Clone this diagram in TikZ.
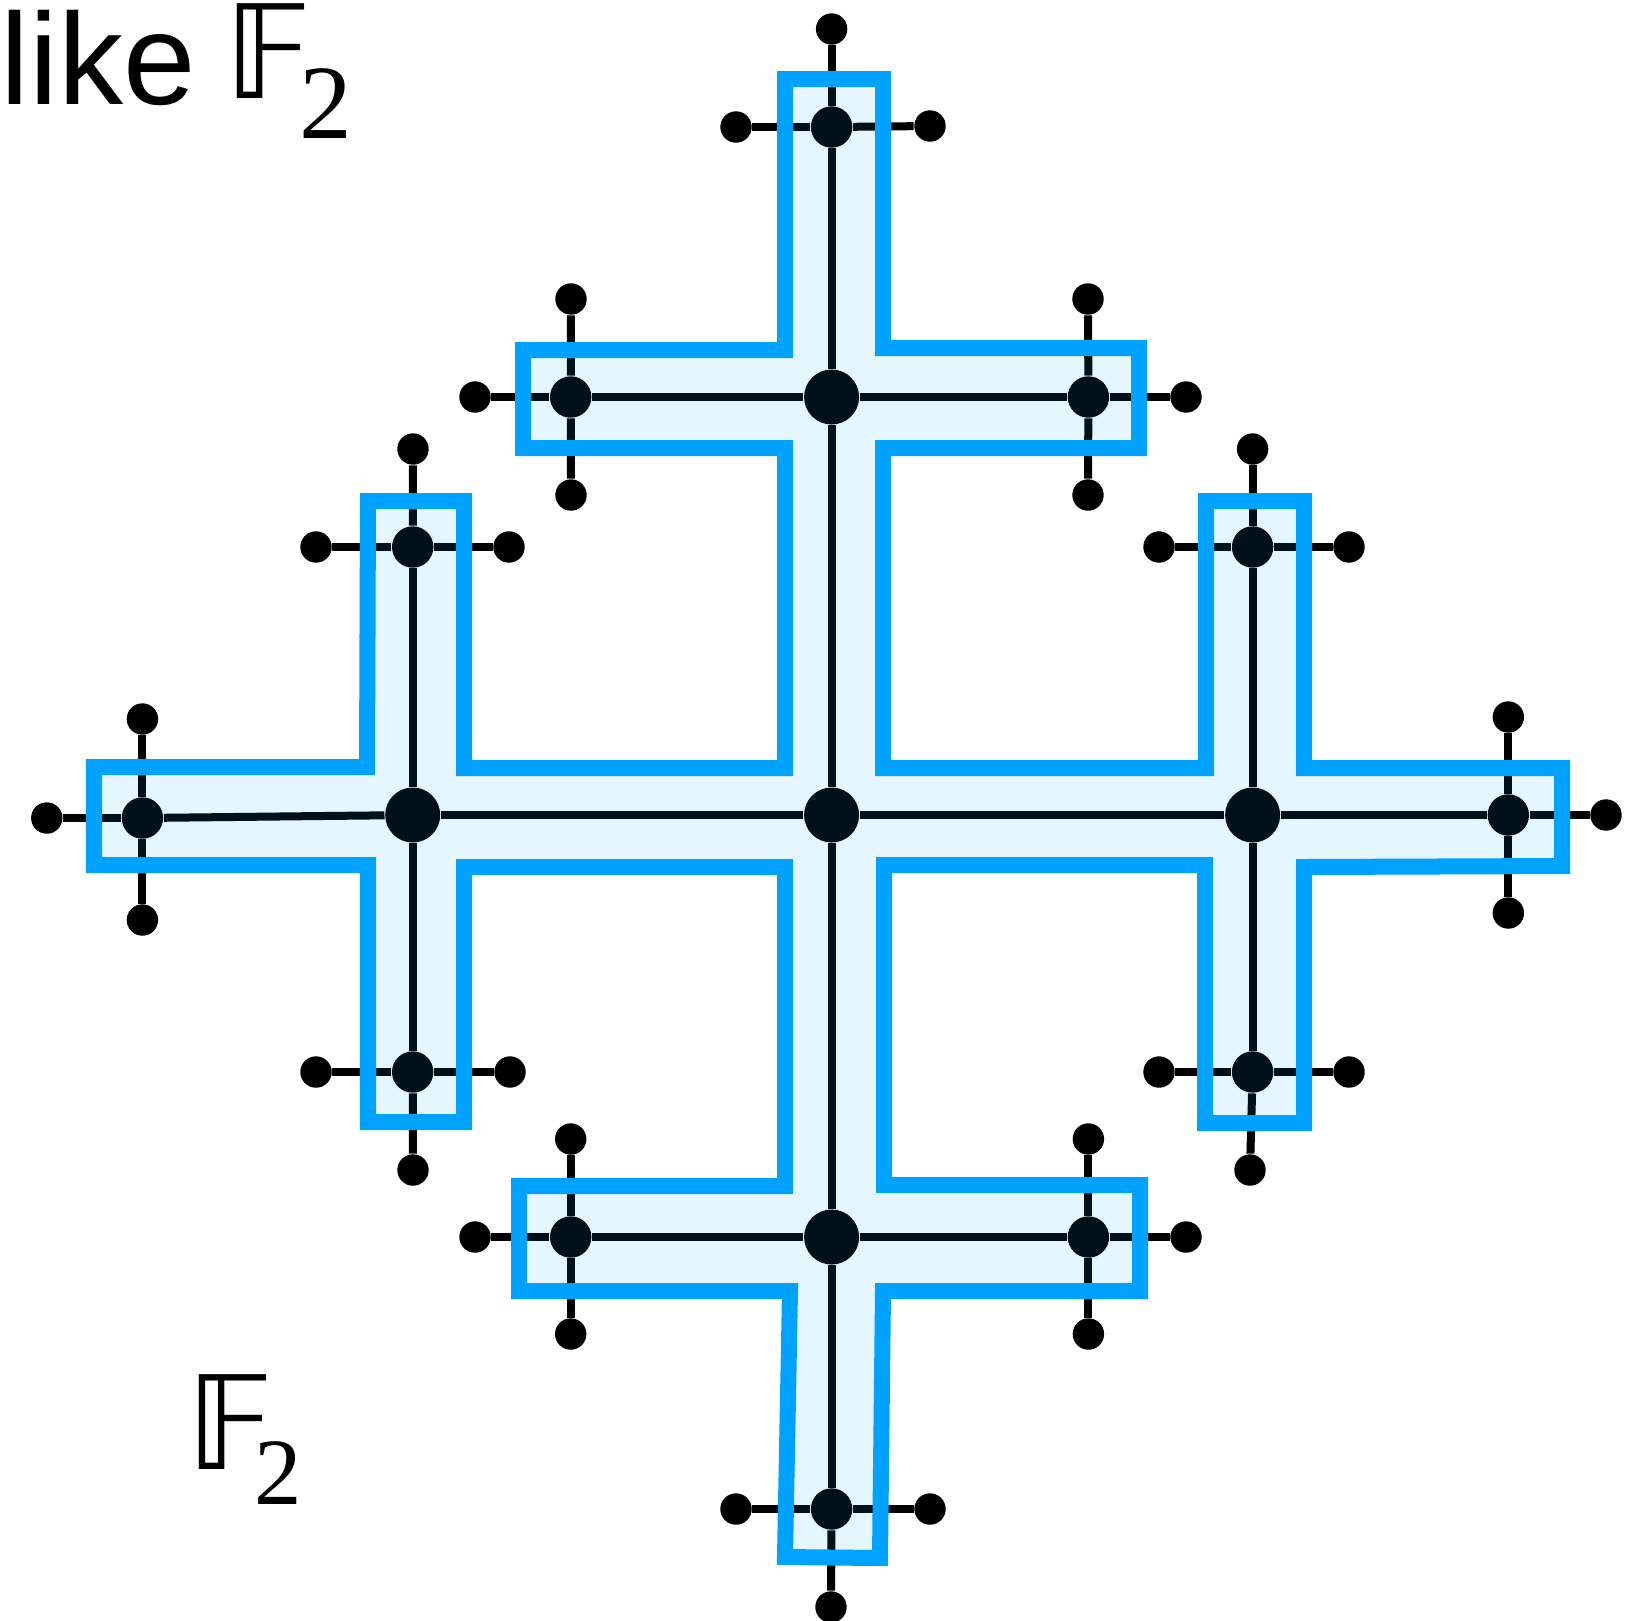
\documentclass[tikz,border=0pt]{standalone}
\usepackage{fontspec}
\newfontfamily\likefont{Liberation Sans}
\newfontfamily\dsfont{DejaVu Sans}
\newfontfamily\subfont{Liberation Serif}
\definecolor{hlblue}{RGB}{0,162,255}
\tikzset{
  bigdot/.style={circle, fill=black, inner sep=0pt, minimum size=0.55cm},
  middot/.style={circle, fill=black, inner sep=0pt, minimum size=0.414cm},
  leafdot/.style={circle, fill=black, inner sep=0pt, minimum size=0.314cm},
  edgeline/.style={line width=0.08cm, black},
  region/.style={draw=hlblue, line width=0.16cm, fill=hlblue, fill opacity=0.1, draw opacity=1, line join=miter},
  lbl/.style={inner sep=0pt, anchor=base west}
}
\begin{document}
\begin{tikzpicture}[x=0.01cm,y=-0.01cm]
\useasboundingbox (0,0) rectangle (1630,1620);
% level 0 and 1
\node[bigdot] (C) at (831.6,815) {};
\node[bigdot] (T) at (831.6,397) {};
\node[bigdot] (B) at (831.6,1237) {};
\node[bigdot] (L) at (412.7,815) {};
\node[bigdot] (R) at (1252.6,815) {};
% level 2
\node[middot] (TT) at (831.6,127) {};
\node[middot] (TL) at (570.7,397) {};
\node[middot] (TR) at (1088.4,397) {};
\node[middot] (LT) at (412.7,547) {};
\node[middot] (LL) at (142.4,818) {};
\node[middot] (LB) at (412.7,1072) {};
\node[middot] (RT) at (1252.6,547) {};
\node[middot] (RR) at (1508.3,815) {};
\node[middot] (RB) at (1252.6,1072) {};
\node[middot] (BL) at (570.7,1237) {};
\node[middot] (BR) at (1088.4,1237) {};
\node[middot] (BB) at (831.6,1509) {};
% leaves
\node[leafdot] (TTu) at (831.6,29) {};
\node[leafdot] (TTl) at (736,127) {};
\node[leafdot] (TTr) at (930,126) {};
\node[leafdot] (TLu) at (571,299) {};
\node[leafdot] (TLd) at (571,495) {};
\node[leafdot] (TLl) at (475,397) {};
\node[leafdot] (TRu) at (1088,299) {};
\node[leafdot] (TRd) at (1088,495) {};
\node[leafdot] (TRr) at (1186,397) {};
\node[leafdot] (LTu) at (413,449) {};
\node[leafdot] (LTl) at (316,547) {};
\node[leafdot] (LTr) at (509,547) {};
\node[leafdot] (LLu) at (142.4,719) {};
\node[leafdot] (LLd) at (142.4,920) {};
\node[leafdot] (LLl) at (46.8,818) {};
\node[leafdot] (LBd) at (413,1170) {};
\node[leafdot] (LBl) at (316,1072) {};
\node[leafdot] (LBr) at (510,1072) {};
\node[leafdot] (RTu) at (1252.6,449) {};
\node[leafdot] (RTl) at (1159,547) {};
\node[leafdot] (RTr) at (1349,547) {};
\node[leafdot] (RRu) at (1508.3,717) {};
\node[leafdot] (RRd) at (1508.3,913) {};
\node[leafdot] (RRr) at (1606,815) {};
\node[leafdot] (RBd) at (1250,1170) {};
\node[leafdot] (RBl) at (1159,1072) {};
\node[leafdot] (RBr) at (1349,1072) {};
\node[leafdot] (BLu) at (570.7,1139) {};
\node[leafdot] (BLd) at (570.7,1334) {};
\node[leafdot] (BLl) at (475,1237) {};
\node[leafdot] (BRu) at (1088.4,1139) {};
\node[leafdot] (BRd) at (1088.4,1334) {};
\node[leafdot] (BRr) at (1186,1237) {};
\node[leafdot] (BBd) at (831,1607) {};
\node[leafdot] (BBl) at (736,1509) {};
\node[leafdot] (BBr) at (930,1509) {};
% edges
\draw[edgeline] (C) -- (T);
\draw[edgeline] (C) -- (B);
\draw[edgeline] (C) -- (L);
\draw[edgeline] (C) -- (R);
\draw[edgeline] (T) -- (TT);
\draw[edgeline] (T) -- (TL);
\draw[edgeline] (T) -- (TR);
\draw[edgeline] (L) -- (LT);
\draw[edgeline] (L) -- (LL);
\draw[edgeline] (L) -- (LB);
\draw[edgeline] (R) -- (RT);
\draw[edgeline] (R) -- (RR);
\draw[edgeline] (R) -- (RB);
\draw[edgeline] (B) -- (BL);
\draw[edgeline] (B) -- (BR);
\draw[edgeline] (B) -- (BB);
\draw[edgeline] (TT) -- (TTu);
\draw[edgeline] (TT) -- (TTl);
\draw[edgeline] (TT) -- (TTr);
\draw[edgeline] (TL) -- (TLu);
\draw[edgeline] (TL) -- (TLd);
\draw[edgeline] (TL) -- (TLl);
\draw[edgeline] (TR) -- (TRu);
\draw[edgeline] (TR) -- (TRd);
\draw[edgeline] (TR) -- (TRr);
\draw[edgeline] (LT) -- (LTu);
\draw[edgeline] (LT) -- (LTl);
\draw[edgeline] (LT) -- (LTr);
\draw[edgeline] (LL) -- (LLu);
\draw[edgeline] (LL) -- (LLd);
\draw[edgeline] (LL) -- (LLl);
\draw[edgeline] (LB) -- (LBd);
\draw[edgeline] (LB) -- (LBl);
\draw[edgeline] (LB) -- (LBr);
\draw[edgeline] (RT) -- (RTu);
\draw[edgeline] (RT) -- (RTl);
\draw[edgeline] (RT) -- (RTr);
\draw[edgeline] (RR) -- (RRu);
\draw[edgeline] (RR) -- (RRd);
\draw[edgeline] (RR) -- (RRr);
\draw[edgeline] (RB) -- (RBd);
\draw[edgeline] (RB) -- (RBl);
\draw[edgeline] (RB) -- (RBr);
\draw[edgeline] (BL) -- (BLu);
\draw[edgeline] (BL) -- (BLd);
\draw[edgeline] (BL) -- (BLl);
\draw[edgeline] (BR) -- (BRu);
\draw[edgeline] (BR) -- (BRd);
\draw[edgeline] (BR) -- (BRr);
\draw[edgeline] (BB) -- (BBd);
\draw[edgeline] (BB) -- (BBl);
\draw[edgeline] (BB) -- (BBr);
% highlighted region
\draw[region] (785,79) -- (883,79) -- (883,348) -- (1139,348) -- (1139,448) -- (883,448)
  -- (883,768) -- (1206,768) -- (1206,501) -- (1304,501) -- (1304,768) -- (1562,768)
  -- (1562,866) -- (1304,867) -- (1304,1123) -- (1205,1123) -- (1205,865) -- (884,865)
  -- (884,1185) -- (1140,1185) -- (1140,1291) -- (883,1291) -- (880,1558) -- (785,1557)
  -- (790,1291) -- (519,1291) -- (519,1186) -- (785,1186) -- (785,867) -- (464,867)
  -- (464,1122) -- (368,1122) -- (368,865) -- (94,865) -- (94,767) -- (367,767)
  -- (368,501) -- (464,501) -- (464,768) -- (785,768) -- (785,448) -- (523,448)
  -- (523,350) -- (785,350) -- cycle;
% labels
\node[lbl, font=\likefont\fontsize{37}{44}\selectfont] (like) at (0,104) {like};
\node[lbl] (Ftop) at (224,98)
  {{\dsfont\fontsize{37}{44}\selectfont 𝔽}\kern-3.6pt\raisebox{-11.4pt}{\subfont\fontsize{30}{30}\selectfont 2}};
\node[lbl] (Fbot) at (186,1469)
  {{\dsfont\fontsize{37}{44}\selectfont 𝔽}\kern-5.6pt\raisebox{-10.2pt}{\subfont\fontsize{27}{27}\selectfont 2}};
\end{tikzpicture}
\end{document}
